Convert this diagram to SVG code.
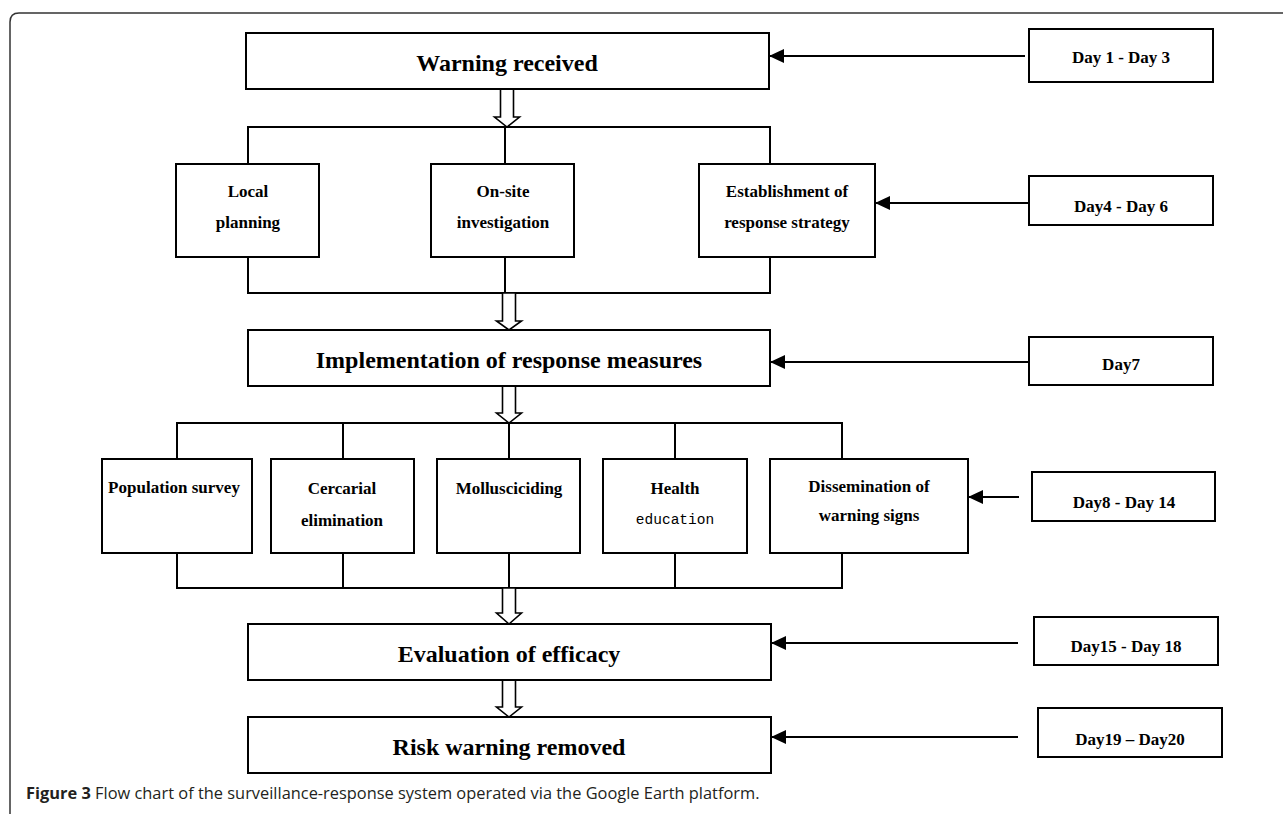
<svg xmlns="http://www.w3.org/2000/svg" width="1283" height="814" viewBox="0 0 1283 814">
<defs>
<marker id="ah" markerUnits="userSpaceOnUse" markerWidth="15" markerHeight="14" refX="15" refY="7" orient="auto">
<path d="M0,0 L15,7 L0,14 z" fill="#000"/>
</marker>
</defs>
<style>
.box{fill:#fff;stroke:#000;stroke-width:2}
.t{font-family:"Liberation Serif","Times New Roman",serif;font-weight:bold;fill:#000;text-anchor:middle}
.big{font-size:24px}
.sm{font-size:17px}
.mono{font-family:"Liberation Mono","Courier New",monospace;font-weight:normal;font-size:14.5px}
.ln{stroke:#000;stroke-width:2;fill:none}
.hol{fill:#fff;stroke:#000;stroke-width:1.6}
.cap{font-family:"Open Sans","Noto Sans",sans-serif;font-size:16.4px;fill:#231f20}
</style>
<path d="M10,814 V22 Q10,13 19,13 H1283" fill="none" stroke="#333" stroke-width="1.5"/>

<g id="connectors">
<path class="ln" d="M248,164 V127 H770 V164 M505,127 V164"/>
<path class="ln" d="M248,257 V293 H770 V257 M505,257 V293"/>
<path class="ln" d="M177,459 V423 H842 V459 M343,423 V459 M509,423 V459 M675,423 V459"/>
<path class="ln" d="M177,553 V588 H842 V553 M343,553 V588 M509,553 V588 M675,553 V588"/>
<polygon class="hol" points="500.5,89 513.5,89 513.5,117 519.5,117 507,127 494.5,117 500.5,117"/>
<polygon class="hol" points="502.5,293 515.5,293 515.5,321 521.5,321 509,330 496.5,321 502.5,321"/>
<polygon class="hol" points="502.5,386 515.5,386 515.5,413 521.5,413 509,423 496.5,413 502.5,413"/>
<polygon class="hol" points="502.5,588 515.5,588 515.5,613 521.5,613 509,624 496.5,613 502.5,613"/>
<polygon class="hol" points="502.5,680 515.5,680 515.5,707 521.5,707 509,717 496.5,707 502.5,707"/>
<line class="ln" x1="1025" y1="56" x2="769" y2="56" marker-end="url(#ah)"/>
<line class="ln" x1="1029" y1="203" x2="875" y2="203" marker-end="url(#ah)"/>
<line class="ln" x1="1029" y1="362" x2="770" y2="362" marker-end="url(#ah)"/>
<line class="ln" x1="1019" y1="497" x2="968" y2="497" marker-end="url(#ah)"/>
<line class="ln" x1="1018" y1="643" x2="771" y2="643" marker-end="url(#ah)"/>
<line class="ln" x1="1018" y1="737" x2="771" y2="737" marker-end="url(#ah)"/>
</g>

<g id="warning"><rect class="box" x="246" y="33" width="523" height="56"/><text class="t big" x="507" y="71">Warning received</text></g>
<g id="day1"><rect class="box" x="1029" y="29" width="184" height="53"/><text class="t sm" x="1121" y="63">Day 1 - Day 3</text></g>
<g id="local"><rect class="box" x="176" y="164" width="143" height="93"/><text class="t sm" x="248" y="197">Local</text><text class="t sm" x="248" y="228">planning</text></g>
<g id="onsite"><rect class="box" x="431" y="164" width="143" height="93"/><text class="t sm" x="503" y="197">On-site</text><text class="t sm" x="503" y="228">investigation</text></g>
<g id="establish"><rect class="box" x="699" y="164" width="176" height="93"/><text class="t sm" x="787" y="197">Establishment of</text><text class="t sm" x="787" y="228">response strategy</text></g>
<g id="day4"><rect class="box" x="1029" y="176" width="184" height="49"/><text class="t sm" x="1121" y="212">Day4 - Day 6</text></g>
<g id="implement"><rect class="box" x="248" y="330" width="522" height="56"/><text class="t big" x="509" y="368">Implementation of response measures</text></g>
<g id="day7"><rect class="box" x="1029" y="337" width="184" height="48"/><text class="t sm" x="1121" y="370">Day7</text></g>
<g id="population"><rect class="box" x="102" y="459" width="150" height="94"/><text class="t sm" x="174" y="493">Population survey</text></g>
<g id="cercarial"><rect class="box" x="271" y="459" width="143" height="94"/><text class="t sm" x="342" y="494">Cercarial</text><text class="t sm" x="342" y="526">elimination</text></g>
<g id="mollusc"><rect class="box" x="437" y="459" width="143" height="94"/><text class="t sm" x="509" y="494">Mollusciciding</text></g>
<g id="health"><rect class="box" x="603" y="459" width="144" height="94"/><text class="t sm" x="675" y="494">Health</text><text class="t mono" x="675" y="524">education</text></g>
<g id="dissem"><rect class="box" x="770" y="459" width="198" height="94"/><text class="t sm" x="869" y="492">Dissemination of</text><text class="t sm" x="869" y="521">warning signs</text></g>
<g id="day8"><rect class="box" x="1032" y="472" width="183" height="49"/><text class="t sm" x="1124" y="508">Day8 - Day 14</text></g>
<g id="evaluation"><rect class="box" x="248" y="624" width="523" height="56"/><text class="t big" x="509" y="662">Evaluation of efficacy</text></g>
<g id="day15"><rect class="box" x="1034" y="617" width="184" height="48"/><text class="t sm" x="1126" y="652">Day15 - Day 18</text></g>
<g id="risk"><rect class="box" x="248" y="717" width="523" height="56"/><text class="t big" x="509" y="755">Risk warning removed</text></g>
<g id="day19"><rect class="box" x="1038" y="708" width="184" height="49"/><text class="t sm" x="1130" y="745">Day19 – Day20</text></g>

<text class="cap" x="26" y="799"><tspan font-weight="bold">Figure 3</tspan> Flow chart of the surveillance-response system operated via the Google Earth platform.</text>
</svg>
